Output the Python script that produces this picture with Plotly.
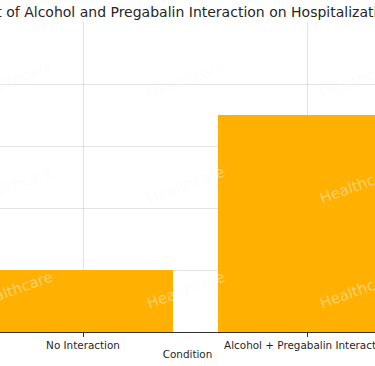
import plotly.graph_objects as go

categories = ["No Interaction", "Alcohol + Pregabalin Interaction"]
values = [10, 35]
title_text = "Impact of Alcohol and Pregabalin Interaction on Hospitalization Rates"
x_label = "Condition"
watermark = "Healthcare"

W, H = 375, 366
ML, MR, MT, MB = 0, 0, 22, 34
plot_h = H - MT - MB

fig = go.Figure()
fig.add_trace(go.Bar(
    x=[0, 1], y=values, width=0.8,
    marker=dict(color="#FFB000", line=dict(width=0)),
    showlegend=False, hoverinfo="skip",
))

# watermark grid (pixel centres -> paper coords)
wm_x = [14, 186, 359]
wm_y = [80, 185, 290]
for py in wm_y:
    for px in wm_x:
        fig.add_annotation(
            text=watermark, xref="paper", yref="paper",
            x=(px - ML) / (W - ML - MR), y=(H - MB - py) / plot_h,
            showarrow=False, textangle=-20,
            font=dict(family="DejaVu Sans", size=15, color="rgba(250,250,250,0.45)"),
            xanchor="center", yanchor="middle",
        )

fig.update_layout(
    width=W, height=H,
    margin=dict(l=ML, r=MR, t=MT, b=MB, pad=0, autoexpand=False),
    paper_bgcolor="white", plot_bgcolor="white",
    font=dict(family="DejaVu Sans", color="#262626"),
    title=dict(text=title_text, x=196 / W, xanchor="center", xref="paper",
               y=1 - 12 / H, yanchor="middle", yref="container",
               font=dict(size=14, color="#262626")),
    bargap=0.2,
)
fig.update_xaxes(
    range=[-0.369, 1.298], tickmode="array", tickvals=[0, 1], ticktext=categories,
    ticks="outside", ticklen=3.5, tickwidth=0.8, tickcolor="#333",
    tickfont=dict(size=10.4, color="#262626"), ticklabeloverflow="allow",
    automargin=False,
    showline=True, linecolor="#333", linewidth=1,
    showgrid=True, gridcolor="rgba(200,200,200,0.5)", gridwidth=0.8,
    zeroline=False, layer="above traces",
    title=dict(text=x_label, font=dict(size=10.4, color="#262626"), standoff=0),
)
fig.update_yaxes(
    range=[0, 50], dtick=10, showticklabels=False, ticks="", automargin=False,
    showgrid=True, gridcolor="rgba(200,200,200,0.5)", gridwidth=0.8,
    zeroline=False, showline=False, layer="above traces",
)

fig.write_html("out.html", config={"displayModeBar": False},
               post_script="document.body.style.margin='0';document.body.style.overflow='hidden';")
